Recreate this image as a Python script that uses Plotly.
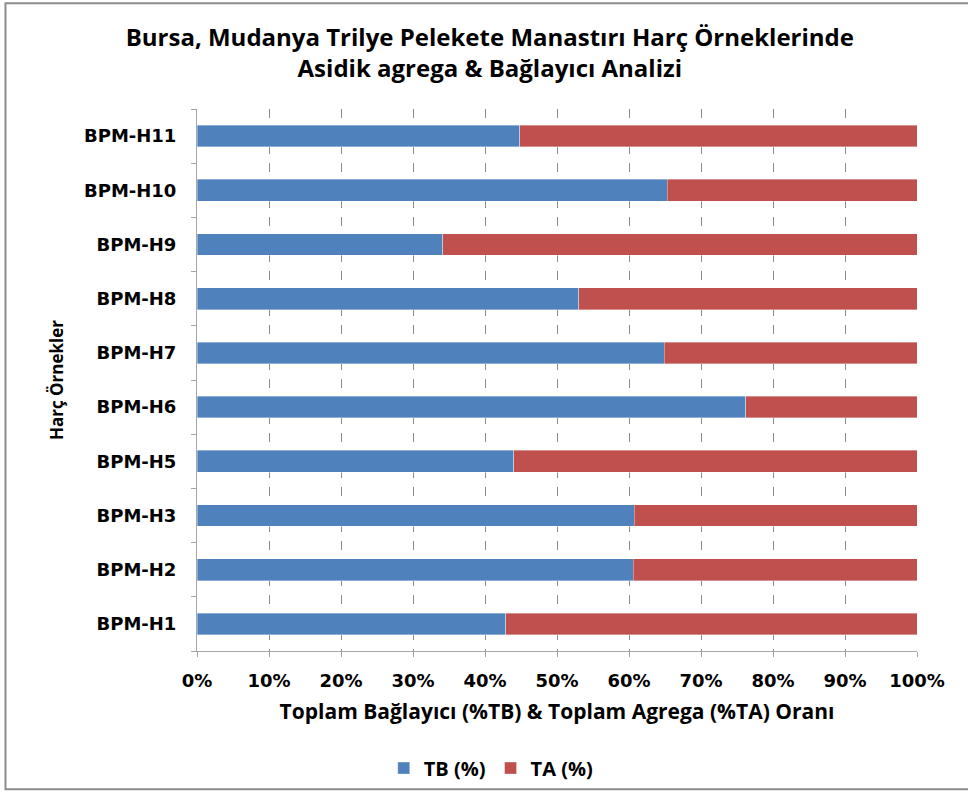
import plotly.graph_objects as go

# Mortar samples (bottom to top) and binder / aggregate shares in percent
samples = ["BPM-H1", "BPM-H2", "BPM-H3", "BPM-H5", "BPM-H6",
           "BPM-H7", "BPM-H8", "BPM-H9", "BPM-H10", "BPM-H11"]
tb_pct = [42.9, 60.6, 60.7, 44.0, 76.2, 64.9, 53.0, 34.1, 65.3, 44.8]
ta_pct = [round(100 - v, 1) for v in tb_pct]
x_ticks = list(range(0, 101, 10))
x_tick_labels = [f"<b>{v}%</b>" for v in x_ticks]

BLUE = "#4F81BD"
RED = "#C0504D"
AXIS_GRAY = "#A6A6A6"
TEXT_FONT = "Open Sans, Noto Sans, Arial, sans-serif"
TICK_FONT = "DejaVu Sans, Verdana, sans-serif"

fig = go.Figure()
fig.add_trace(go.Bar(
    y=samples, x=tb_pct, name="<b>TB (%)</b>", orientation="h",
    marker=dict(color=BLUE, line=dict(color="rgba(255,255,255,0.6)", width=0.6)),
))
fig.add_trace(go.Bar(
    y=samples, x=ta_pct, name="<b>TA (%)</b>", orientation="h",
    marker=dict(color=RED, line=dict(color="rgba(255,255,255,0.6)", width=0.6)),
))

fig.update_layout(
    barmode="stack",
    bargap=0.6,
    width=968, height=799,
    paper_bgcolor="white", plot_bgcolor="white",
    margin=dict(l=197, r=51, t=109, b=148),
    title=dict(
        text="<b>Bursa, Mudanya Trilye Pelekete Manastırı Harç Örneklerinde<br>Asidik agrega &amp; Bağlayıcı Analizi</b>",
        x=0.506, xanchor="center", y=0.943, yanchor="middle", yref="container",
        font=dict(family=TEXT_FONT, size=24, color="#000000"),
    ),
    legend=dict(
        orientation="h", x=0.408, xanchor="center", y=-0.216, yanchor="middle",
        font=dict(family=TEXT_FONT, size=20, color="#000000"),
        traceorder="normal", itemwidth=30,
    ),
    shapes=[dict(type="rect", xref="paper", yref="paper",
                 x0=-0.266, x1=1.2, y0=-0.255, y1=1.195,
                 line=dict(color="#8C8C8C", width=2), layer="below")],
)

fig.update_xaxes(
    range=[0, 100], tickvals=x_ticks, ticktext=x_tick_labels,
    showgrid=True, gridcolor="#8C8C8C", griddash="dash", gridwidth=1,
    showline=True, linecolor=AXIS_GRAY, linewidth=1,
    ticks="outside", ticklen=5, tickcolor=AXIS_GRAY, ticklabelstandoff=8,
    tickfont=dict(family=TICK_FONT, size=18, color="#000000"),
    title=dict(text="<b>Toplam Bağlayıcı (%TB) &amp; Toplam Agrega (%TA) Oranı</b>",
               font=dict(family=TEXT_FONT, size=21, color="#000000"), standoff=14),
    zeroline=False,
)
fig.update_yaxes(
    categoryorder="array", categoryarray=samples,
    showline=True, linecolor=AXIS_GRAY, linewidth=1,
    ticks="outside", ticklen=5, tickcolor=AXIS_GRAY, tickson="boundaries",
    ticklabelstandoff=16, tickprefix="<b>", ticksuffix="</b>",
    tickfont=dict(family=TICK_FONT, size=18, color="#000000"),
    title=dict(text="<b>Harç Örnekler</b>",
               font=dict(family=TEXT_FONT, size=17, color="#000000"), standoff=16),
    showgrid=False,
)

fig.write_html("out.html")
